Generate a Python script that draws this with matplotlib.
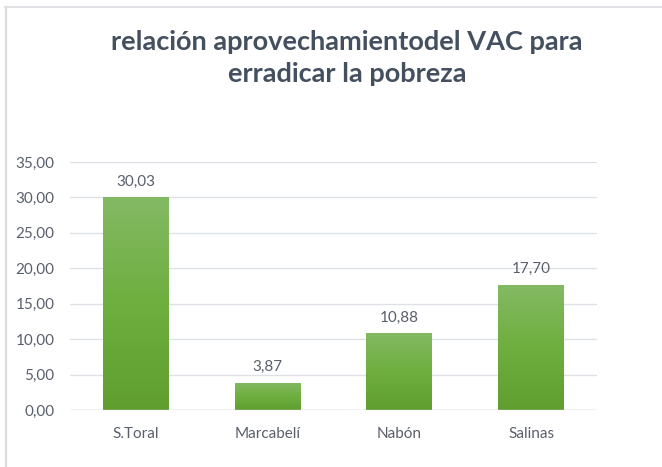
import numpy as np
import matplotlib
matplotlib.use("Agg")
from matplotlib import pyplot as plt
from matplotlib.colors import LinearSegmentedColormap
from matplotlib.ticker import FuncFormatter


plt.rcParams['font.family'] = ['Lato', 'DejaVu Sans']

categories = ["S.Toral", "Marcabelí", "Nabón", "Salinas"]
values = [30.03, 3.87, 10.88, 17.70]
yticks = [0, 5, 10, 15, 20, 25, 30, 35]

TEXT = '#595f6b'
GRID = '#dde1e6'

fig = plt.figure(figsize=(6.62, 4.67), dpi=100)

# thin frame lines of the chart box
fig.add_artist(plt.Line2D([5 / 662, 1], [1 - 7 / 467, 1 - 7 / 467],
                          transform=fig.transFigure, color='#d9dce0', lw=1.2))
fig.add_artist(plt.Line2D([5.5 / 662, 5.5 / 662], [0, 1 - 7 / 467],
                          transform=fig.transFigure, color='#d9dce0', lw=1.6))

ax = fig.add_axes([70 / 662, 1 - 410 / 467, 527 / 662, 248 / 467])

x = np.arange(len(categories))
bars = ax.bar(x, values, width=0.5, color='none', zorder=3)

# vertical green gradient inside each bar
cmap = LinearSegmentedColormap.from_list("grn", ['#5f9e2f', '#6eaf3f', '#84b964'])
grad = np.linspace(0, 1, 256).reshape(-1, 1)
for b in bars:
    x0, y0 = b.get_x(), b.get_y()
    w, h = b.get_width(), b.get_height()
    im = ax.imshow(grad, cmap=cmap, origin='lower', aspect='auto',
                   extent=[x0, x0 + w, y0, y0 + h], zorder=3)
    im.set_clip_path(b)

for xi, v in zip(x, values):
    ax.annotate(f"{v:.2f}".replace('.', ','), (xi, v), xytext=(0, 6),
                textcoords='offset points', ha='center', va='bottom',
                fontsize=11, color=TEXT)

ax.set_xlim(-0.5, len(categories) - 0.5)
ax.set_ylim(0, 35)
ax.set_yticks(yticks)
ax.yaxis.set_major_formatter(FuncFormatter(lambda v, _: f"{v:.2f}".replace('.', ',')))
ax.set_xticks(x)
ax.set_xticklabels(categories)
ax.tick_params(axis='both', length=0, labelsize=11, labelcolor=TEXT)
ax.tick_params(axis='y', pad=11)
ax.tick_params(axis='x', pad=12)
ax.grid(axis='y', color=GRID, lw=1, zorder=0)
for s in ax.spines.values():
    s.set_visible(False)
ax.axhline(0, color='#d0d5db', lw=1, zorder=4)

fig.text(0.524, 1 - 58 / 467, "relación aprovechamientodel VAC para\nerradicar la pobreza",
         ha='center', va='center', fontsize=19.5, fontweight='bold',
         color='#44505f', linespacing=1.45)

fig.savefig("out.png", dpi=100)
